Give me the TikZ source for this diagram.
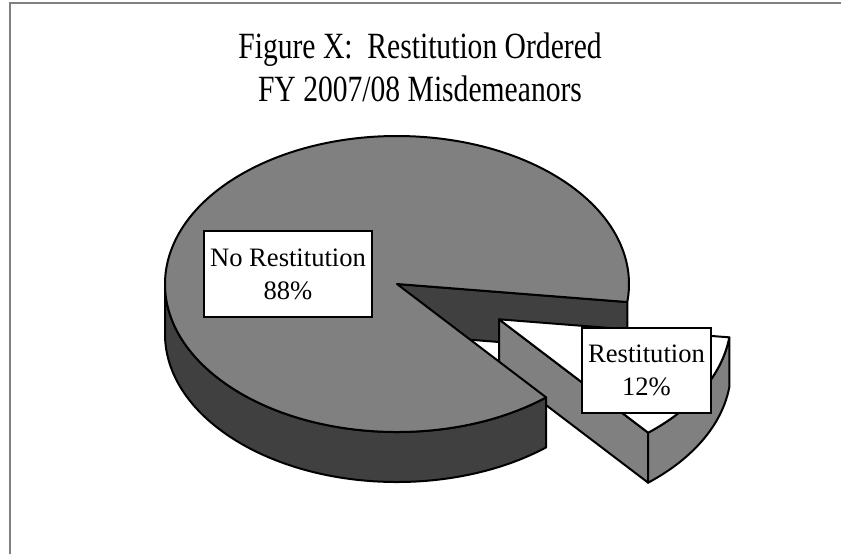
\documentclass[tikz,border=0pt]{standalone}
\usepackage{fontspec}
\setmainfont{Liberation Serif}
\usepackage{tikz}

\definecolor{topgray}{HTML}{808080}
\definecolor{sidegray}{HTML}{404040}

\tikzset{
    pie/.style={draw=black,line width=1pt,line join=round},
    lbl/.style={draw=black,line width=0.8pt,fill=white,align=center,inner sep=0pt,
        font=\fontsize{13.3}{16.5}\selectfont},
    ttl/.style={align=center,xscale=0.8,transform shape,font=\fontsize{18.5}{21.5}\selectfont}
}

\begin{document}
\begin{tikzpicture}[x=0.5pt,y=-0.5pt]
    \useasboundingbox (0,0) rectangle (841,554);
    \draw [topgray,line width=1pt] (9.5,554) -- (9.5,2.5) -- (841,2.5);
    \node [ttl] (title) at (420,67) {Figure X:\ \ Restitution Ordered\\FY 2007/08 Misdemeanors};
    \begin{scope}[shift={(397,284)}]
    \draw [pie,fill=sidegray] (0,0) -- (7:232 and 148) -- ++(0,50) -- (0,50) -- cycle;
    \begin{scope}[shift={(102,35.3)}]
        \draw [pie,fill=topgray] (0,0) -- (50:232 and 148) -- ++(0,50) -- (0,50) -- cycle;
        \draw [pie,fill=topgray] (7:232 and 148) arc (7:50:232 and 148) -- ++(0,50)
            arc (50:7:232 and 148) -- cycle;
        \draw [pie,fill=white] (0,0) -- (7:232 and 148) arc (7:50:232 and 148) -- cycle;
    \end{scope}
    \draw [pie,fill=sidegray] (50:232 and 148) arc (50:180:232 and 148) -- ++(0,50)
        arc (180:50:232 and 148) -- cycle;
    \draw [pie,fill=topgray] (0,0) -- (50:232 and 148) arc (50:367:232 and 148) -- cycle;
    \end{scope}
    \node [lbl,minimum width=84pt,minimum height=43pt] (norest) at (288,274) {No Restitution\\88\%};
    \node [lbl,minimum width=64.5pt,minimum height=42.5pt] (rest) at (646.5,370.5) {Restitution\\12\%};
\end{tikzpicture}
\end{document}
